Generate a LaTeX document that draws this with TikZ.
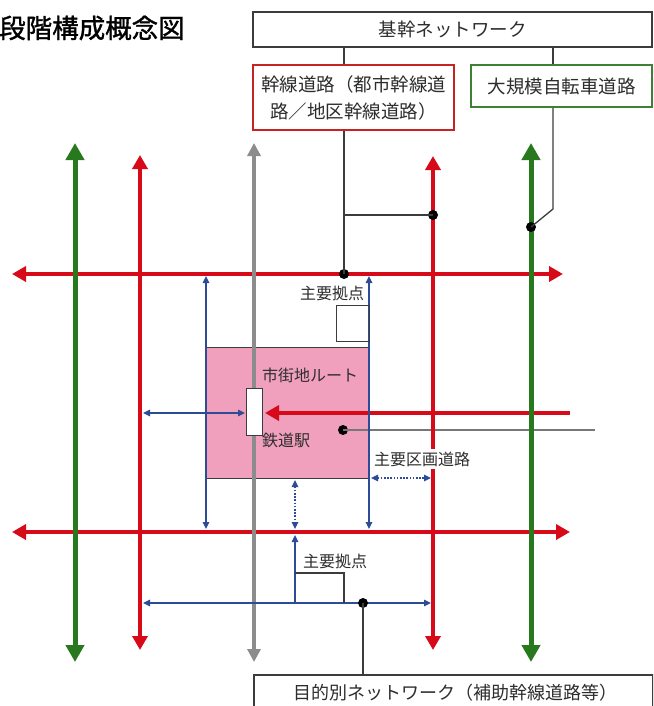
\documentclass[tikz,border=0pt]{standalone}
\usepackage{fontspec}
\setmainfont{Noto Sans CJK JP}
\newfontfamily\titlefont[BoldFont={Noto Sans CJK JP},BoldFeatures={FakeBold=1.3}]{Noto Sans CJK JP}
\usetikzlibrary{arrows.meta}
\definecolor{myred}{RGB}{215,10,25}
\definecolor{mygreen}{RGB}{40,120,30}
\definecolor{mygray}{RGB}{140,140,140}
\definecolor{myblue}{RGB}{45,75,150}
\definecolor{conncol}{RGB}{60,60,60}
\definecolor{pinkfill}{RGB}{240,160,188}
\definecolor{redborder}{RGB}{200,35,35}
\definecolor{greenborder}{RGB}{60,130,50}
\definecolor{txt}{RGB}{45,45,45}
\begin{document}
\begin{tikzpicture}[x=1pt,y=-1pt,
  GT/.tip={Triangle[width=18pt,length=17pt]},
  RT/.tip={Triangle[width=15pt,length=14pt]},
  KT/.tip={Triangle[width=13pt,length=13pt]},
  BT/.tip={Triangle[width=6.5pt,length=7pt]},
  greenroad/.style={draw=mygreen,line width=5pt,GT-GT},
  redroad/.style={draw=myred,line width=4.5pt},
  grayroad/.style={draw=mygray,line width=4pt,KT-KT},
  blueroad/.style={draw=myblue,line width=1.4pt},
  conn/.style={draw=conncol,line width=1.3pt},
  dot/.style={circle,fill=black,inner sep=0pt,minimum size=10pt},
  lbl/.style={text=txt,font=\fontsize{16}{18}\selectfont,inner sep=1pt},
  boxlbl/.style={text=txt,font=\fontsize{18.5}{27}\selectfont,align=center}
]
\useasboundingbox (0,0) rectangle (653,706);
\clip (0,0) rectangle (653,706);
\fill[white] (0,0) rectangle (653,706);

% title
\node[anchor=west,inner sep=0pt,text=black,font=\titlefont\bfseries\fontsize{26.5}{30}\selectfont] (title) at (-1,28) {段階構成概念図};

% pink city area
\filldraw[fill=pinkfill,draw=conncol,line width=1pt] (206,347) rectangle (369,478);
\node[inner sep=0pt,minimum width=163pt,minimum height=131pt] (city) at (287.5,412.5) {};

% road end points
\coordinate (h1l) at (12,274);  \coordinate (h1r) at (563,274);
\coordinate (h2l) at (12,532);  \coordinate (h2r) at (570,532);
\coordinate (h3l) at (265,413); \coordinate (h3r) at (570,413);
\coordinate (g1t) at (75,143);  \coordinate (g1b) at (75,662);
\coordinate (r1t) at (140,155); \coordinate (r1b) at (140,650);
\coordinate (k1t) at (254,143); \coordinate (k1b) at (254,662);
\coordinate (r2t) at (433,156); \coordinate (r2b) at (433,650);
\coordinate (g2t) at (531,143); \coordinate (g2b) at (531,662);

% red horizontals
\draw[redroad,RT-RT] (h1l) -- (h1r);
\draw[redroad,RT-RT] (h2l) -- (h2r);
\draw[redroad,-RT] (h3r) -- (h3l);

% gray thin line from dot in city
\node[dot] (d4) at (343,430) {};
\coordinate (e1) at (595,430);
\draw[draw=mygray!85!black,line width=1.2pt] (d4.center) -- (e1);

% verticals
\draw[greenroad] (g1t) -- (g1b);
\draw[greenroad] (g2t) -- (g2b);
\draw[redroad,RT-RT] (r1t) -- (r1b);
\draw[redroad,RT-RT] (r2t) -- (r2b);
\draw[grayroad] (k1t) -- (k1b);

% label over red vertical
\node[lbl,fill=white,anchor=west,inner ysep=3pt] (kukaku) at (373,459) {主要区画道路};

% blue roads
\coordinate (b1t) at (206,276); \coordinate (b1b) at (206,529);
\coordinate (b2t) at (369,276); \coordinate (b2b) at (369,529);
\coordinate (b3l) at (143,413); \coordinate (b3r) at (245,413);
\coordinate (b4l) at (371,478); \coordinate (b4r) at (431,478);
\coordinate (b5t) at (295,480); \coordinate (b5b) at (295,529);
\coordinate (b6t) at (295,535); \coordinate (b6b) at (295,603);
\coordinate (b7l) at (143,603); \coordinate (b7r) at (431,603);
\draw[blueroad,BT-BT] (b1t) -- (b1b);
\draw[blueroad,BT-BT] (b2t) -- (b2b);
\draw[blueroad,BT-BT] (b3l) -- (b3r);
\draw[blueroad,BT-BT,dash pattern=on 1.6pt off 1.6pt] (b4l) -- (b4r);
\draw[blueroad,BT-BT,dash pattern=on 1.6pt off 1.6pt] (b5t) -- (b5b);
\draw[blueroad,-BT] (b6b) -- (b6t);
\draw[blueroad,BT-BT] (b7l) -- (b7r);

% station
\node[draw=conncol,fill=white,line width=1pt,inner sep=0pt,minimum width=16pt,minimum height=47pt] (station) at (254,411.5) {};
\node[lbl,anchor=west] (route) at (261,375) {市街地ルート};
\node[lbl,anchor=west] (eki) at (261,440) {鉄道駅};

% major bases
\node[draw=conncol,line width=1pt,inner sep=0pt,minimum width=33pt,minimum height=36pt] (kyoten1box) at (352.5,323) {};
\node[lbl] (kyoten1) at (332,293) {主要拠点};
\node[lbl] (kyoten2) at (335,561) {主要拠点};
\coordinate (kb2a) at (295,573);
\coordinate (kb2b) at (344,573);
\coordinate (kb2c) at (344,603);
\draw[conn,line width=1.1pt] (kb2a) -- (kb2b) -- (kb2c);

% boxes
\node[draw=conncol,line width=1.4pt,minimum width=399pt,minimum height=35pt,boxlbl] (top) at (452.5,29.5) {基幹ネットワーク};
\node[draw=redborder,line width=2pt,minimum width=201pt,minimum height=65pt,boxlbl,inner sep=0pt] (rbox) at (353.5,97.5) {幹線道路（都市幹線道\\路／地区幹線道路）};
\node[draw=greenborder,line width=2pt,minimum width=181pt,minimum height=42pt,boxlbl] (gbox) at (561.5,86) {大規模自転車道路};
\node[draw=conncol,line width=1.4pt,minimum width=399pt,minimum height=50pt,inner sep=0pt] (bot) at (453.5,700) {};
\node[boxlbl,font=\fontsize{18}{22}\selectfont] (botlbl) at (455,693) {目的別ネットワーク（補助幹線道路等）};

% connectors
\node[dot] (d1) at (344,274) {};
\node[dot] (d2) at (433,215) {};
\node[dot] (d3) at (531,227) {};
\node[dot] (d5) at (363,603) {};
\coordinate (gk) at (553,209);
\draw[conn] (top.south -| d1) -- (rbox.north -| d1);
\draw[conn] (rbox.south -| d1) -- (d1.center);
\draw[conn] (d1 |- d2) -- (d2.center);
\draw[conn] (top.south -| gk) -- (gbox.north -| gk);
\draw[conn] (gbox.south -| gk) -- (gk) -- (d3.center);
\draw[conn] (d5.center) -- (bot.north -| d5);
\end{tikzpicture}
\end{document}
